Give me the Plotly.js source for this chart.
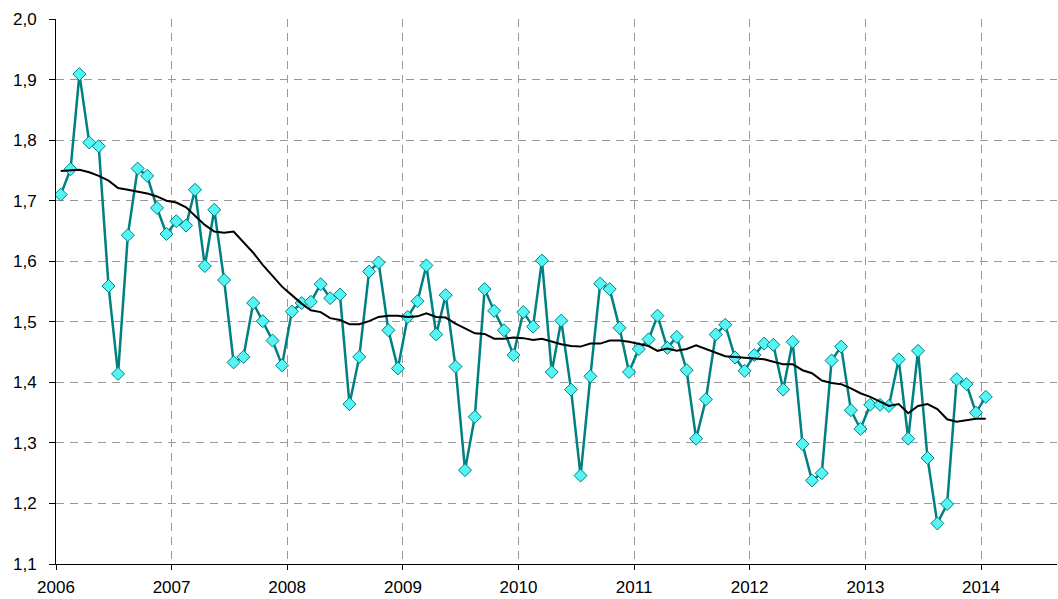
<!DOCTYPE html>
<html>
<head>
<meta charset="utf-8">
<script src="https://cdn.plot.ly/plotly-3.0.1.min.js"></script>
<style>
html,body{margin:0;padding:0;background:#fff;}
#chart{width:1058px;height:599px;}
</style>
</head>
<body>
<div id="chart"></div>
<script>
// Monthly values, Jan 2006 .. Jan 2014
const startYear = 2006;
const monthly = [
  1.710, 1.752, 1.909, 1.796, 1.790, 1.559, 1.414, 1.643, 1.753, 1.741, 1.688, 1.645,
  1.666, 1.659, 1.718, 1.592, 1.685, 1.569, 1.433, 1.442, 1.531, 1.501, 1.469, 1.428,
  1.517, 1.531, 1.533, 1.562, 1.539, 1.545, 1.364, 1.442, 1.583, 1.598, 1.486, 1.423,
  1.508, 1.534, 1.593, 1.479, 1.544, 1.426, 1.255, 1.343, 1.554, 1.518, 1.486, 1.445,
  1.516, 1.492, 1.601, 1.417, 1.502, 1.388, 1.246, 1.410, 1.563, 1.554, 1.490, 1.417,
  1.455, 1.471, 1.510, 1.457, 1.475, 1.420, 1.307, 1.372, 1.479, 1.495, 1.441, 1.419,
  1.445, 1.464, 1.462, 1.388, 1.467, 1.298, 1.238, 1.250, 1.436, 1.459, 1.354, 1.323,
  1.363, 1.363, 1.361, 1.438, 1.307, 1.452, 1.275, 1.167, 1.199, 1.405, 1.397, 1.350,
  1.376
];
const trend = [
  1.749, 1.750, 1.751, 1.747, 1.741, 1.733, 1.721, 1.718, 1.715, 1.712, 1.707, 1.700,
  1.697, 1.689, 1.675, 1.660, 1.649, 1.647, 1.649, 1.632, 1.614, 1.594, 1.576, 1.558,
  1.544, 1.530, 1.519, 1.516, 1.506, 1.503, 1.496, 1.496, 1.501, 1.508, 1.510, 1.510,
  1.508, 1.509, 1.514, 1.508, 1.507, 1.497, 1.489, 1.481, 1.480, 1.472, 1.472, 1.474,
  1.473, 1.470, 1.472, 1.467, 1.463, 1.460, 1.459, 1.464, 1.464, 1.469, 1.469, 1.467,
  1.463, 1.460, 1.452, 1.456, 1.452, 1.455, 1.461, 1.455, 1.449, 1.443, 1.442, 1.441,
  1.440, 1.438, 1.434, 1.430, 1.430, 1.420, 1.415, 1.403, 1.399, 1.397, 1.390, 1.382,
  1.376, 1.368, 1.361, 1.364, 1.349, 1.361, 1.364, 1.356, 1.339, 1.335, 1.338, 1.340,
  1.340
];
const yearTicks = [2006, 2007, 2008, 2009, 2010, 2011, 2012, 2013, 2014];

function pad(n){ return (n < 10 ? '0' : '') + n; }
const dates = monthly.map((_, i) => (startYear + Math.floor(i / 12)) + '-' + pad(i % 12 + 1) + '-16');

const traces = [
  {
    x: dates, y: monthly, type: 'scatter', mode: 'lines+markers',
    line: {color: '#008080', width: 2.5},
    marker: {symbol: 'diamond', size: 10, color: '#55F5F5', line: {color: '#008080', width: 1}},
    hoverinfo: 'x+y'
  },
  {
    x: dates, y: trend, type: 'scatter', mode: 'lines',
    line: {color: '#000000', width: 2},
    hoverinfo: 'x+y'
  }
];

const layout = {
  width: 1058, height: 599,
  margin: {l: 56, r: 1, t: 19, b: 35},
  paper_bgcolor: '#fff', plot_bgcolor: '#fff',
  showlegend: false,
  separators: ', ',
  font: {family: 'Liberation Sans, Arial, sans-serif', size: 17, color: '#000'},
  xaxis: {
    type: 'date',
    range: ['2006-01-01', '2014-08-29'],
    tickvals: yearTicks.map(y => y + '-01-01'),
    ticktext: yearTicks.map(String),
    showgrid: true, gridcolor: '#999', griddash: '8px,6px', gridwidth: 1,
    showline: true, linecolor: '#000', linewidth: 1,
    ticks: 'outside', ticklen: 5, tickcolor: '#000',
    ticklabelstandoff: 3,
    zeroline: false
  },
  yaxis: {
    range: [1.1, 2.0],
    tickvals: [1.1, 1.2, 1.3, 1.4, 1.5, 1.6, 1.7, 1.8, 1.9, 2.0],
    tickformat: '.1f',
    showgrid: true, gridcolor: '#999', griddash: '8px,6px', gridwidth: 1,
    showline: true, linecolor: '#000', linewidth: 1,
    ticks: 'outside', ticklen: 6, tickcolor: '#000',
    ticklabelstandoff: 9,
    zeroline: false
  }
};

Plotly.newPlot('chart', traces, layout, {displayModeBar: false, staticPlot: true});
</script>
</body>
</html>
